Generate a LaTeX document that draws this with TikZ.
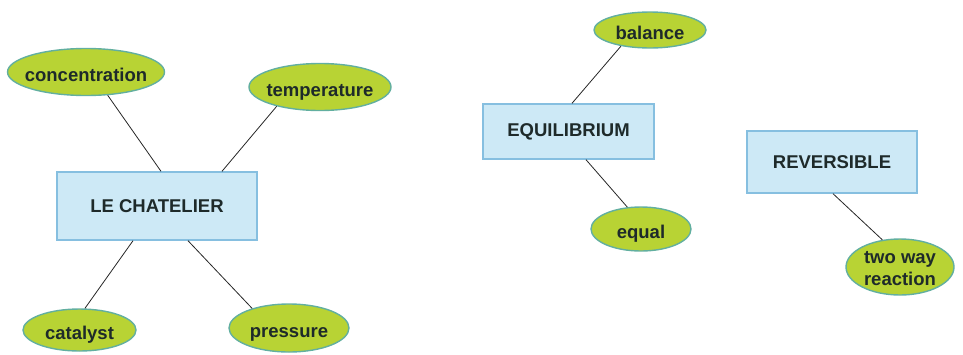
\documentclass[tikz,border=0pt]{standalone}
\usepackage{fontspec}
\setmainfont{Liberation Sans}
\usetikzlibrary{shapes.geometric}
\definecolor{boxfill}{HTML}{CDE9F6}
\definecolor{boxline}{HTML}{86BFE0}
\definecolor{ovalfill}{HTML}{B8D334}
\definecolor{ovalline}{HTML}{62AFA0}
\definecolor{inkdark}{HTML}{1E2A2A}
% oval label: zero-size box so the ellipse keeps its given size;
% the optional argument sets how far the text sits below the centre
\newcommand{\ovaltext}[2][9pt]{\makebox[0pt]{\raisebox{-#1}[0pt][0pt]{\begin{tabular}{@{}c@{}}#2\end{tabular}}}}
\tikzset{
  concept/.style={draw=boxline, fill=boxfill, line width=1.4pt,
    minimum width=#1, inner sep=0pt, font=\fontsize{18.5}{22}\selectfont\bfseries,
    text=inkdark},
  idea/.style={ellipse, draw=ovalline, fill=ovalfill, line width=1.4pt,
    inner sep=0pt, font=\fontsize{18.5}{22}\selectfont\bfseries, text=inkdark},
  link/.style={draw=black!85, line width=0.8pt}
}
\begin{document}
\begin{tikzpicture}[x=1pt,y=-1pt]
\useasboundingbox (0,0) rectangle (963,354);

% concept boxes
\node[concept=200pt, minimum height=68pt] (chat) at (157,206) {LE CHATELIER};
\node[concept=171pt, minimum height=55pt] (equi) at (568.5,131.5) {EQUILIBRIUM};
\node[concept=170pt, minimum height=62pt] (rev) at (832,162) {REVERSIBLE};

% linked ideas
\node[idea, minimum width=157pt, minimum height=47pt] (conc) at (86,72) {\ovaltext{concentration}};
\node[idea, minimum width=142pt, minimum height=47pt] (temp) at (320,87) {\ovaltext{temperature}};
\node[idea, minimum width=113pt, minimum height=42pt] (cat) at (79.5,330) {\ovaltext{catalyst}};
\node[idea, minimum width=120pt, minimum height=48pt] (pres) at (289,328) {\ovaltext{pressure}};
\node[idea, minimum width=112pt, minimum height=36pt] (bal) at (650,30) {\ovaltext{balance}};
\node[idea, minimum width=100pt, minimum height=44pt] (eq) at (641,229) {\ovaltext{equal}};
\node[idea, minimum width=108pt, minimum height=56pt] (two) at (900,267) {\ovaltext[7pt]{two way\\reaction}};

% connectors
\draw[link] (conc.-47.6) -- ([xshift=4pt]chat.north);
\draw[link] (temp.-156.8) -- ([xshift=65pt]chat.north);
\draw[link] (cat.76) -- ([xshift=-24pt]chat.south);
\draw[link] (pres.152.2) -- ([xshift=31pt]chat.south);
\draw[link] (bal.-151.3) -- ([xshift=3.5pt]equi.north);
\draw[link] ([xshift=17.5pt]equi.south) -- (eq.122.5);
\draw[link] ([xshift=1pt]rev.south) -- (two.123.7);
\end{tikzpicture}
\end{document}
